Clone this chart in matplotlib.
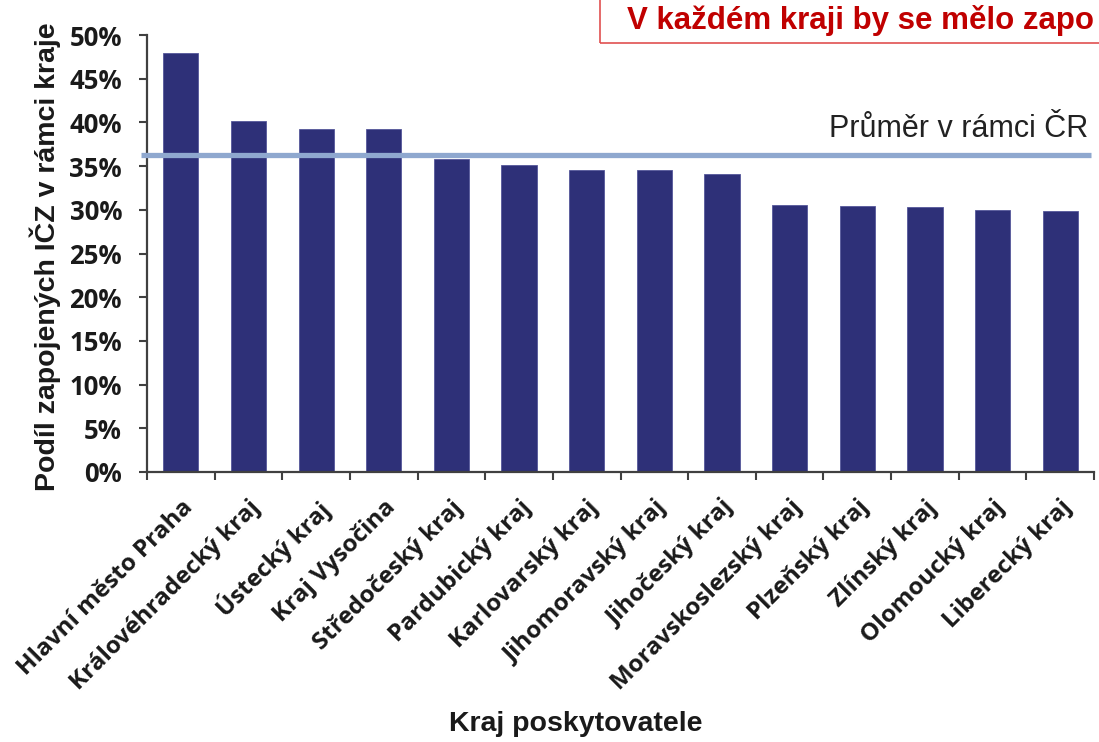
import matplotlib
matplotlib.use("Agg")
import matplotlib.pyplot as plt
from matplotlib.patches import Rectangle
import numpy as np

# data
kraje = ["Hlavní město Praha", "Královéhradecký kraj", "Ústecký kraj",
         "Kraj Vysočina", "Středočeský kraj", "Pardubický kraj",
         "Karlovarský kraj", "Jihomoravský kraj", "Jihočeský kraj",
         "Moravskoslezský kraj", "Plzeňský kraj", "Zlínský kraj",
         "Olomoucký kraj", "Liberecký kraj"]
podil = [0.479, 0.402, 0.392, 0.392, 0.358, 0.351, 0.346, 0.346, 0.341,
         0.305, 0.304, 0.303, 0.300, 0.299]
prumer = 0.363
yticks = [0, 0.05, 0.10, 0.15, 0.20, 0.25, 0.30, 0.35, 0.40, 0.45, 0.50]
nadpis = "V každém kraji by se mělo zapo"   # v originale je text useknuty

fig = plt.figure(figsize=(10.99, 7.42), dpi=100)
ax = fig.add_axes([0.1338, 0.3639, 0.8617, 0.5889])

x = np.arange(len(kraje))
ax.bar(x, podil, width=0.52, color="#2E3078", edgecolor="#55579A",
       linewidth=0.6, zorder=2)

# prumerna linie - presahuje trochu pres osu
ax.plot([-0.59, 13.46], [prumer, prumer], color="#8FA8CF", lw=3.8,
        clip_on=False, zorder=3, solid_capstyle="butt")
ax.text(13.42, prumer + 0.012, "Průměr v rámci ČR", ha="right", va="bottom",
        fontsize=22, family="Liberation Sans", color="#222222")

ax.set_xlim(-0.5, 13.5)
ax.set_ylim(0, 0.5)
ax.set_yticks(yticks)
ax.set_yticklabels([f"{int(round(v*100))}%" for v in yticks],
                   fontsize=18.5, fontweight="bold", family="Open Sans",
                   color="#1a1a1a")
ax.set_xticks(x)
ax.set_xticklabels(kraje, rotation=45, ha="right", rotation_mode="anchor",
                   fontsize=17.5, fontweight="bold", family="Open Sans",
                   color="#1a1a1a")
ax.set_xticks(np.arange(-0.5, 14, 1), minor=True)
ax.tick_params(axis="x", which="major", length=0, pad=17)
ax.tick_params(axis="x", which="minor", length=6, width=1.5, color="#404040")
ax.tick_params(axis="y", length=6, width=1.5, color="#404040", pad=12)

for s in ["top", "right"]:
    ax.spines[s].set_visible(False)
for s in ["left", "bottom"]:
    ax.spines[s].set_color("#404040")
    ax.spines[s].set_linewidth(1.6)

fig.text(45/1099, 1 - 257/742, "Podíl zapojených IČZ v rámci kraje",
         rotation=90, ha="center", va="center", fontsize=20.5,
         fontweight="bold", family="Liberation Sans", color="#1a1a1a")
fig.text(576/1099, 0.024, "Kraj poskytovatele", ha="center", va="center",
         fontsize=20.5, fontweight="bold", family="Liberation Sans",
         color="#1a1a1a")

# nadpis v ramecku u horniho okraje
fig.patches.append(Rectangle((600/1099, 1 - 43/742), 0.6, 0.1,
                             transform=fig.transFigure, fill=False,
                             edgecolor="#E05050", lw=1.2))
fig.text(1094/1099, 1 - 20/742, nadpis,
         ha="right", va="center", fontsize=22.5, fontweight="bold",
         family="Liberation Sans", color="#C00000")

fig.savefig("out.png", dpi=100)
